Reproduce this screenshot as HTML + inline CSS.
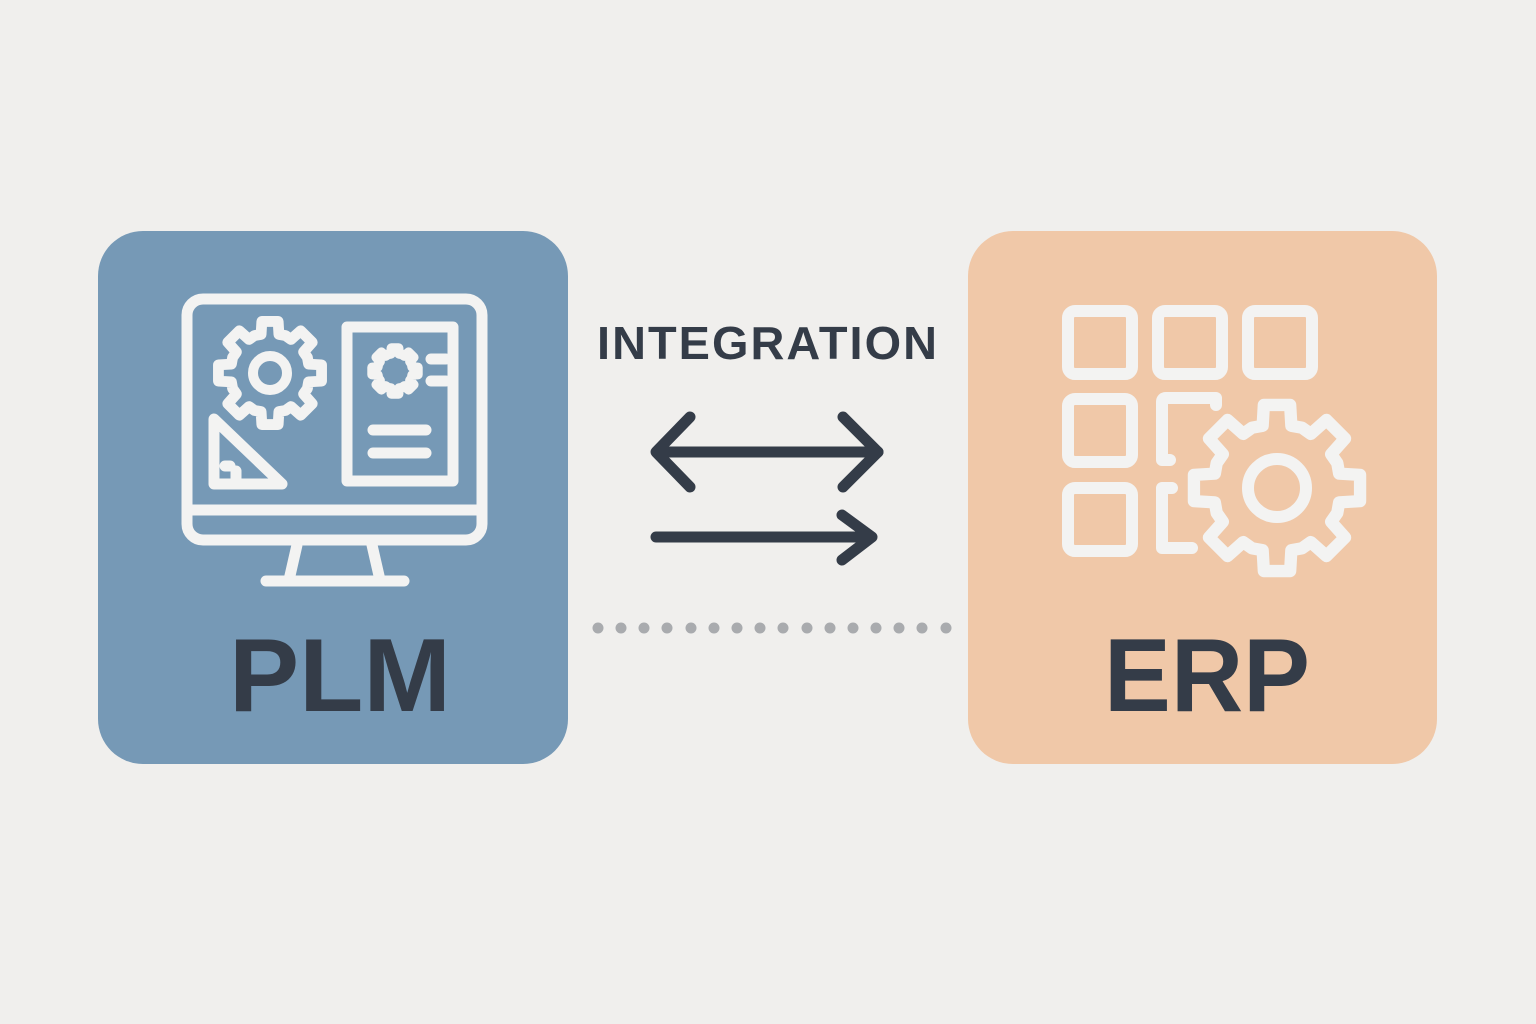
<!DOCTYPE html>
<html><head><style>
html,body{margin:0;padding:0;background:#f0efed;}
svg{display:block}
</style></head><body>
<svg width="1536" height="1024" viewBox="0 0 1536 1024" xmlns="http://www.w3.org/2000/svg">
<defs>
<polygon id="gear" points="42.87,-9.9 57.29,-9.07 57.29,9.07 42.87,9.9 41.58,17.22 37.31,23.32 46.92,34.09 34.09,46.92 23.32,37.31 17.22,41.58 9.9,42.87 9.07,57.29 -9.07,57.29 -9.9,42.87 -17.22,41.58 -23.32,37.31 -34.09,46.92 -46.92,34.09 -37.31,23.32 -41.58,17.22 -42.87,9.9 -57.29,9.07 -57.29,-9.07 -42.87,-9.9 -41.58,-17.22 -37.31,-23.32 -46.92,-34.09 -34.09,-46.92 -23.32,-37.31 -17.22,-41.58 -9.9,-42.87 -9.07,-57.29 9.07,-57.29 9.9,-42.87 17.22,-41.58 23.32,-37.31 34.09,-46.92 46.92,-34.09 37.31,-23.32 41.58,-17.22"/>
</defs>
<rect width="1536" height="1024" fill="#f0efed"/>
<rect x="98" y="231" width="470" height="533" rx="45" fill="#7699b6"/>
<rect x="968" y="231" width="469" height="533" rx="45" fill="#f0c8a8"/>

<!-- PLM icon -->
<g fill="none" stroke="#f3f3f2" stroke-width="11" stroke-linecap="round" stroke-linejoin="round">
<rect x="187" y="299" width="295" height="241" rx="16"/>
<line x1="189" y1="510" x2="480" y2="510"/>
<line x1="297" y1="545" x2="289" y2="580"/>
<line x1="372" y1="545" x2="380" y2="580"/>
<line x1="266" y1="581" x2="404" y2="581"/>
<rect x="347" y="327" width="106" height="154"/>
<line x1="373" y1="430" x2="426" y2="430"/>
<line x1="373" y1="453" x2="426" y2="453"/>
<line x1="431" y1="359" x2="446" y2="359"/>
<line x1="431" y1="381" x2="446" y2="381"/>
<path d="M214 419 L214 484 L282 484 Z"/>
<line x1="225" y1="466" x2="230" y2="466"/>
<line x1="236" y1="471" x2="236" y2="482"/>
</g>
<g transform="translate(270,373) scale(0.9)">
<use href="#gear" fill="none" stroke="#f3f3f2" stroke-width="12" stroke-linejoin="round"/>
</g>
<circle cx="270" cy="373" r="17" fill="none" stroke="#f3f3f2" stroke-width="10"/>
<g transform="translate(395,371) scale(0.4)">
<use href="#gear" fill="none" stroke="#f3f3f2" stroke-width="24" stroke-linejoin="round"/>
</g>

<!-- ERP icon -->
<g fill="none" stroke="#f3f3f2" stroke-width="12" stroke-linecap="round" stroke-linejoin="round">
<rect x="1068" y="311" width="64" height="63" rx="7"/>
<rect x="1158" y="311" width="64" height="63" rx="7"/>
<rect x="1248" y="311" width="64" height="63" rx="7"/>
<rect x="1068" y="399" width="64" height="63" rx="7"/>
<rect x="1068" y="488" width="64" height="63" rx="7"/>
<path d="M1170 460 L1162 460 L1162 402 Q1162 398 1166 398 L1216 398 L1216 405"/>
<path d="M1172 488 L1162 488 L1162 548 L1192 548"/>
</g>
<g transform="translate(1277,488) scale(1.45)">
<use href="#gear" fill="#f0c8a8" stroke="#f3f3f2" stroke-width="8.5" stroke-linejoin="round"/>
</g>
<circle cx="1277" cy="488" r="29" fill="none" stroke="#f3f3f2" stroke-width="12"/>

<!-- arrows -->
<g fill="none" stroke="#343c48" stroke-width="11" stroke-linecap="round" stroke-linejoin="round">
<line x1="658" y1="452" x2="878" y2="452"/>
<polyline points="690,417 656,452 690,487"/>
<polyline points="843,417 878,452 843,487"/>
<line x1="656" y1="537" x2="870" y2="537"/>
<polyline points="842,515 872,537 842,560"/>
</g>
<g fill="#a9abae">
<circle cx="598" cy="628" r="5.5"/><circle cx="621" cy="628" r="5.5"/><circle cx="644" cy="628" r="5.5"/><circle cx="667" cy="628" r="5.5"/><circle cx="691" cy="628" r="5.5"/><circle cx="714" cy="628" r="5.5"/><circle cx="737" cy="628" r="5.5"/><circle cx="760" cy="628" r="5.5"/><circle cx="783" cy="628" r="5.5"/><circle cx="807" cy="628" r="5.5"/><circle cx="830" cy="628" r="5.5"/><circle cx="853" cy="628" r="5.5"/><circle cx="876" cy="628" r="5.5"/><circle cx="899" cy="628" r="5.5"/><circle cx="922" cy="628" r="5.5"/><circle cx="946" cy="628" r="5.5"/>
</g>
<g font-family="'Liberation Sans', sans-serif" font-weight="bold" fill="#343c48" text-anchor="middle">
<text x="768" y="359" font-size="46" letter-spacing="2" textLength="342" lengthAdjust="spacingAndGlyphs">INTEGRATION</text>
<text x="340" y="711" font-size="104" textLength="222" lengthAdjust="spacingAndGlyphs">PLM</text>
<text x="1207" y="711" font-size="104" textLength="206" lengthAdjust="spacingAndGlyphs">ERP</text>
</g>
</svg>
</body></html>
